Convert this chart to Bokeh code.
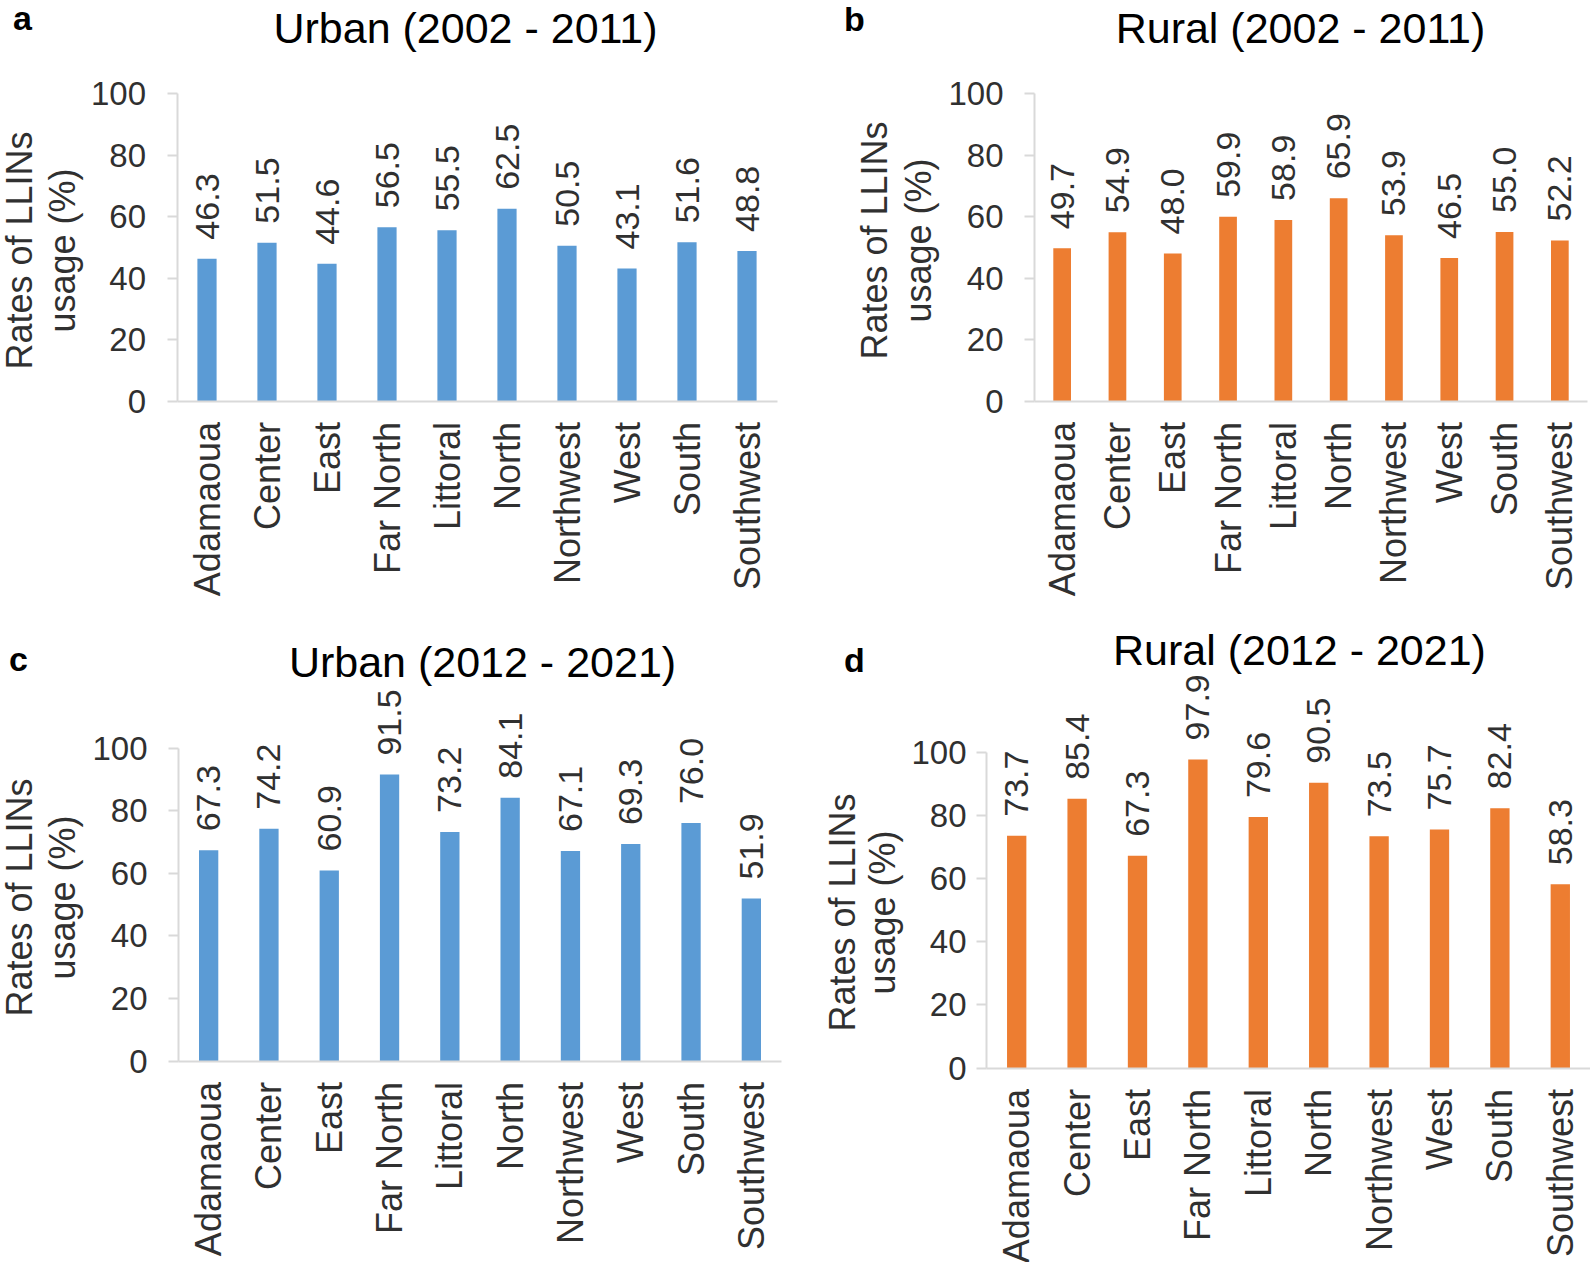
from math import pi
from bokeh.plotting import figure
from bokeh.models import FixedTicker, Range1d, Label, ColumnDataSource
from bokeh.layouts import column, row
from bokeh.core.properties import value
from bokeh.embed import file_html
from bokeh.resources import INLINE

# ---------------- data ----------------
regions = ["Adamaoua", "Center", "East", "Far North", "Littoral",
           "North", "Northwest", "West", "South", "Southwest"]
urban_2002_2011 = [46.3, 51.5, 44.6, 56.5, 55.5, 62.5, 50.5, 43.1, 51.6, 48.8]
rural_2002_2011 = [49.7, 54.9, 48.0, 59.9, 58.9, 65.9, 53.9, 46.5, 55.0, 52.2]
urban_2012_2021 = [67.3, 74.2, 60.9, 91.5, 73.2, 84.1, 67.1, 69.3, 76.0, 51.9]
rural_2012_2021 = [73.7, 85.4, 67.3, 97.9, 79.6, 90.5, 73.5, 75.7, 82.4, 58.3]
titles = ["Urban (2002 - 2011)", "Rural (2002 - 2011)",
          "Urban (2012 - 2021)", "Rural (2012 - 2021)"]
letters = ["a", "b", "c", "d"]
y_ticks = [0, 20, 40, 60, 80, 100]
y_label_lines = ["Rates of LLINs", "usage (%)"]

BLUE = "#5B9BD5"
ORANGE = "#ED7D31"
AXIS = "#D9D9D9"
TXT = "#303030"
FONT = "Liberation Sans"

# layout geometry in pixels (figure origin in page, size, axis position, band width,
# pixel rows of value 0 and 100, text anchors (centres) in page pixels)
panels = [
    dict(vals=urban_2002_2011, color=BLUE, ox=0, oy=0, W=790, H=626,
         axis_x=176.5, band=60.0, y0=400.5, y100=93, tstand=21,
         title_xy=(465, 27), letter_xy=(22, 17), ylab=[(19, 250), (62, 250)]),
    dict(vals=rural_2002_2011, color=ORANGE, ox=790, oy=0, W=800, H=626,
         axis_x=244, band=55.3, y0=400.5, y100=93, tstand=21,
         title_xy=(1300, 27), letter_xy=(854, 18), ylab=[(874, 240), (918, 240)]),
    dict(vals=urban_2012_2021, color=BLUE, ox=0, oy=626, W=790, H=636,
         axis_x=178, band=60.3, y0=1060.5 - 626, y100=747.5 - 626, tstand=21,
         title_xy=(482, 661), letter_xy=(18, 658), ylab=[(19, 897), (62, 897)]),
    dict(vals=rural_2012_2021, color=ORANGE, ox=790, oy=626, W=800, H=636,
         axis_x=196, band=60.4, y0=1067.5 - 626, y100=752.3 - 626, tstand=10,
         title_xy=(1299, 649), letter_xy=(854, 659), ylab=[(842, 912), (882, 912)]),
]


def make_panel(g, title, letter):
    W, H = g["W"], g["H"]
    s, ax = g["band"], g["axis_x"]
    x_start = -0.5 - ax / s
    x_end = x_start + W / s
    k = (g["y0"] - g["y100"]) / 100.0
    y_start = -(H - g["y0"]) / k
    y_end = g["y0"] / k

    p = figure(x_range=Range1d(x_start, x_end), y_range=Range1d(y_start, y_end),
               width=W, height=H, title=None,
               output_backend="svg", toolbar_location=None,
               min_border_left=0, min_border_right=0,
               min_border_top=0, min_border_bottom=0)
    p.outline_line_color = None
    p.grid.visible = False
    p.background_fill_color = "white"
    p.border_fill_color = "white"

    idx = list(range(len(regions)))
    src = ColumnDataSource(dict(i=idx, val=g["vals"],
                                lab=[f"{v:.1f}" for v in g["vals"]]))
    p.vbar(x="i", top="val", width=0.32, source=src,
           fill_color=g["color"], line_color=None)
    p.text(x="i", y="val", text="lab", source=src, angle=pi / 2,
           text_align="left", text_baseline="middle", y_offset=-19,
           text_font=value(FONT), text_font_size="34px", text_color=TXT)

    # y axis
    ya = p.yaxis[0]
    ya.fixed_location = -0.5
    ya.ticker = FixedTicker(ticks=y_ticks)
    ya.bounds = (0, 100)
    ya.axis_line_color = AXIS
    ya.axis_line_width = 2
    ya.major_tick_line_color = AXIS
    ya.major_tick_line_width = 2
    ya.major_tick_out = 10
    ya.major_tick_in = 0
    ya.minor_tick_line_color = None
    ya.major_label_standoff = g["tstand"]
    ya.major_label_text_font = FONT
    ya.major_label_text_font_size = "33px"
    ya.major_label_text_color = TXT

    # x axis
    xa = p.xaxis[0]
    xa.fixed_location = 0
    xa.ticker = FixedTicker(ticks=idx)
    xa.major_label_overrides = {i: r for i, r in zip(idx, regions)}
    xa.bounds = (-0.5, len(regions) - 0.5)
    xa.axis_line_color = AXIS
    xa.axis_line_width = 2
    xa.major_tick_line_color = None
    xa.minor_tick_line_color = None
    xa.major_label_orientation = pi / 2
    xa.major_label_standoff = 15
    xa.major_label_text_font = FONT
    xa.major_label_text_font_size = "36px"
    xa.major_label_text_color = TXT

    ox, oy = g["ox"], g["oy"]

    def put(wx, wy, text, **kw):
        p.add_layout(Label(x=wx - ox, y=H - (wy - oy), x_units="screen", y_units="screen",
                           text=text, **kw))

    put(g["title_xy"][0], g["title_xy"][1], title, text_font=FONT,
        text_font_size="43px", text_color="#000000",
        text_align="center", text_baseline="middle")
    put(g["letter_xy"][0], g["letter_xy"][1], letter, text_font=FONT,
        text_font_size="34px", text_font_style="bold", text_color="#000000",
        text_align="center", text_baseline="middle")
    for (wx, wy), line in zip(g["ylab"], y_label_lines):
        put(wx, wy, line, angle=pi / 2, text_font=FONT, text_font_size="36px",
            text_color=TXT, text_align="center", text_baseline="middle")
    return p


figs = [make_panel(g, t, l) for g, t, l in zip(panels, titles, letters)]
layout = column(row(figs[0], figs[1], spacing=0), row(figs[2], figs[3], spacing=0), spacing=0)

open("out.html", "w").write(file_html(layout, INLINE))
